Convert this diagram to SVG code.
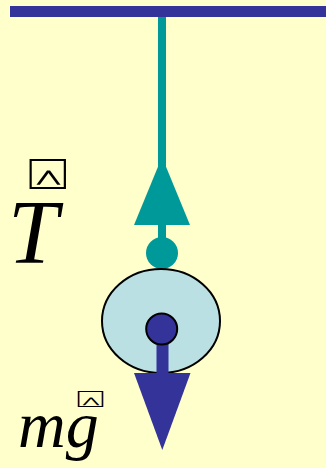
<svg xmlns="http://www.w3.org/2000/svg" width="326" height="468" viewBox="0 0 326 468">
<style>
.lbl{font-family:"Liberation Serif",serif;font-style:italic;fill:#000}
.vec{font-family:"DejaVu Sans",sans-serif;fill:#000}
</style>
<rect width="326" height="468" fill="#FFFFCC"/>
<g id="ceiling"><rect x="10" y="6" width="316" height="11" fill="#333399"/></g>
<g id="connectors">
<rect x="158" y="17" width="8" height="150" fill="#009999"/>
<polygon points="162,157 190,225 134,225" fill="#009999"/>
<rect x="158" y="225" width="8" height="20" fill="#009999"/>
</g>
<g id="knot"><circle cx="162" cy="253" r="16" fill="#009999"/></g>
<g id="bob">
<ellipse cx="161" cy="321" rx="59" ry="52" fill="#BBE0E3" stroke="#000" stroke-width="2"/>
</g>
<g id="weight">
<rect x="156.5" y="329" width="12" height="45" fill="#333399"/>
<polygon points="134,373 190.5,373 162.3,450" fill="#333399"/>
<circle cx="161.7" cy="329" r="15.5" fill="#333399" stroke="#000" stroke-width="2"/>
</g>
<g id="label-T">
<text class="vec" transform="translate(27,189) scale(1.65,1)" font-size="42">⍓</text>
<text class="lbl" x="8" y="263" font-size="90">T</text>
</g>
<g id="label-mg">
<text class="vec" transform="translate(76,407) scale(2.1,1)" font-size="23">⍓</text>
<text class="lbl" x="18" y="447" font-size="66">mg</text>
</g>
</svg>
